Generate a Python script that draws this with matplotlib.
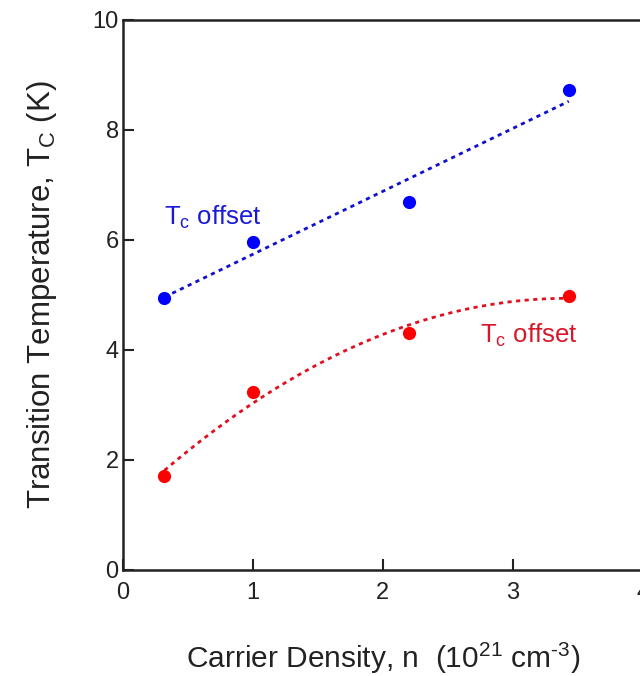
import numpy as np
import matplotlib
matplotlib.use("Agg")
import matplotlib.pyplot as plt

plt.rcParams['font.family'] = ['Liberation Sans', 'DejaVu Sans']
plt.rcParams['mathtext.fontset'] = 'custom'
plt.rcParams['mathtext.rm'] = 'Liberation Sans'
plt.rcParams['mathtext.it'] = 'Liberation Sans'

# Data
density = [0.32, 1.0, 2.2, 3.43]
tc_blue = [4.95, 5.97, 6.68, 8.73]
tc_red = [1.71, 3.23, 4.31, 4.98]
xticks = [0, 1, 2, 3, 4]
yticks = [0, 2, 4, 6, 8, 10]

fig = plt.figure(figsize=(6.4, 6.76), dpi=100)
ax = fig.add_axes([0.192, 0.157, 0.8125, 0.8136])

xs = np.linspace(min(density), max(density), 200)
pb = np.polyfit(density, tc_blue, 1)
pr = np.polyfit(density, tc_red, 2)

ax.plot(xs, np.polyval(pb, xs), color='#1010d0', lw=2.0, ls=(0, (1.5, 1.6)))
ax.plot(xs, np.polyval(pr, xs), color='#e01020', lw=2.0, ls=(0, (1.5, 1.6)))
ax.plot(density, tc_blue, 'o', color='#0000ff', ms=9.5, mec='none')
ax.plot(density, tc_red, 'o', color='#ff0000', ms=9.5, mec='none')

ax.text(0.32, 6.27, r'T$_\mathregular{c}$ offset', color='#1a1ad8', fontsize=18.5)
ax.text(2.75, 4.13, r'T$_\mathregular{c}$ offset', color='#d8182a', fontsize=18.5)

ax.set_xlim(0, 4)
ax.set_ylim(0, 10)
ax.set_xticks(xticks)
ax.set_yticks(yticks)
ax.tick_params(direction='in', length=8, width=1.5, labelsize=17, colors='#222222')
ax.tick_params(axis='x', pad=9)
ax.tick_params(axis='y', pad=3)
for s in ax.spines.values():
    s.set_linewidth(1.8)
    s.set_color('#222222')

ax.set_xlabel(r'Carrier Density, n  (10$^\mathregular{21}$ cm$^\mathregular{\text{-}3}$)', fontsize=21.5, labelpad=26, color='#222222')
ax.set_ylabel(r'Transition Temperature, T$_\mathregular{C}$ (K)', fontsize=22.5, labelpad=24, color='#222222')

fig.savefig('out.png', dpi=100)
